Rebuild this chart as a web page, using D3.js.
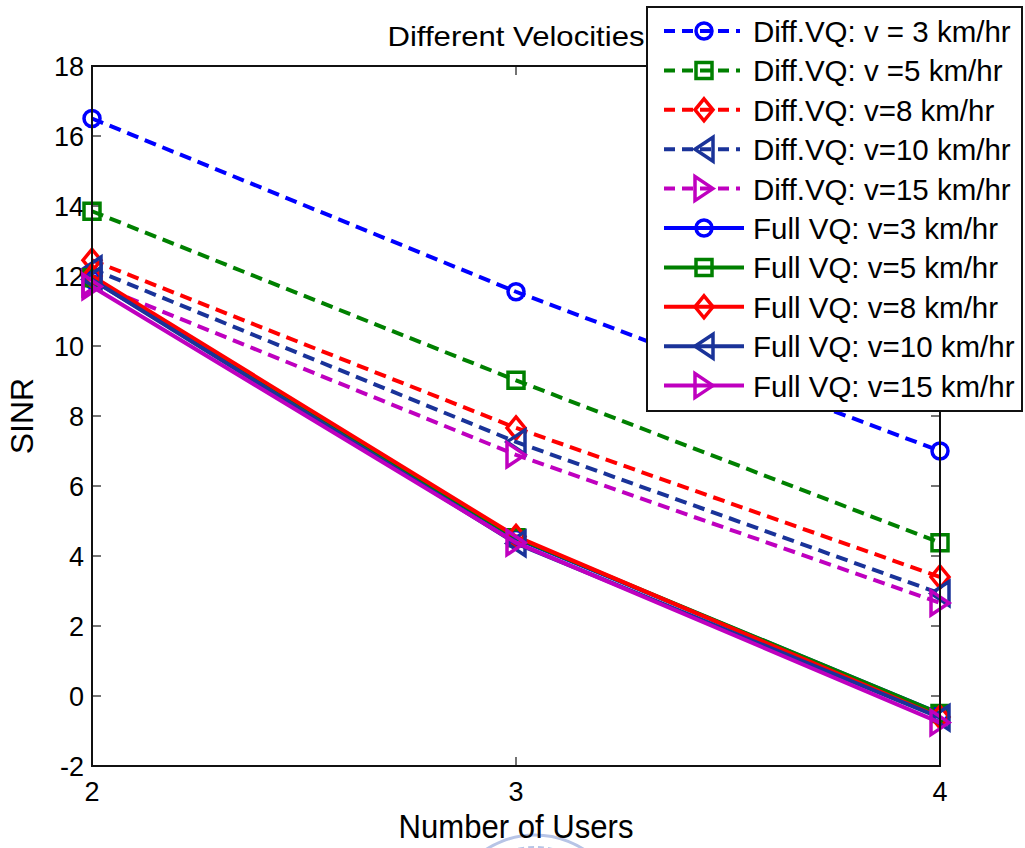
<!DOCTYPE html>
<html>
<head>
<meta charset="utf-8">
<script src="https://cdn.jsdelivr.net/npm/d3@7"></script>
<style>
  body { margin: 0; background: #fff; }
  text { font-family: "Liberation Sans", Arial, sans-serif; fill: #000; }
</style>
</head>
<body>
<div id="chart"></div>
<script>
// number of users on x
const users = [2, 3, 4];
const yTicks = [-2, 0, 2, 4, 6, 8, 10, 12, 14, 16, 18];

// SINR
const diff3 = [16.5, 11.55, 7.0];
const diff5 = [13.85, 9.02, 4.38];
const diff8 = [12.45, 7.66, 3.4];
const diff10 = [12.2, 7.26, 2.93];
const diff15 = [11.8, 6.89, 2.66];
const full3 = [11.9, 4.5, -0.5];
const full5 = [11.95, 4.52, -0.5];
const full8 = [12.0, 4.56, -0.6];
const full10 = [11.9, 4.36, -0.62];
const full15 = [11.7, 4.38, -0.76];

const series = [
  { label: "Diff.VQ: v = 3 km/hr", values: diff3, color: "#0000ff", marker: "circle", dashed: true },
  { label: "Diff.VQ: v =5 km/hr", values: diff5, color: "#008000", marker: "square", dashed: true },
  { label: "Diff.VQ: v=8 km/hr", values: diff8, color: "#ff0000", marker: "diamond", dashed: true },
  { label: "Diff.VQ: v=10 km/hr", values: diff10, color: "#1a3399", marker: "left", dashed: true },
  { label: "Diff.VQ: v=15 km/hr", values: diff15, color: "#bf00bf", marker: "right", dashed: true },
  { label: "Full VQ: v=3 km/hr", values: full3, color: "#0000ff", marker: "circle", dashed: false },
  { label: "Full VQ: v=5 km/hr", values: full5, color: "#008000", marker: "square", dashed: false },
  { label: "Full VQ: v=8 km/hr", values: full8, color: "#ff0000", marker: "diamond", dashed: false },
  { label: "Full VQ: v=10 km/hr", values: full10, color: "#1a3399", marker: "left", dashed: false },
  { label: "Full VQ: v=15 km/hr", values: full15, color: "#bf00bf", marker: "right", dashed: false },
];

const width = 1025, height = 848;
const plot = { left: 92, right: 940, top: 66, bottom: 766 };

const svg = d3.select("#chart").append("svg")
  .attr("width", width)
  .attr("height", height);

const x = d3.scaleLinear().domain([2, 4]).range([plot.left, plot.right]);
const y = d3.scaleLinear().domain([-2, 18]).range([plot.bottom, plot.top]);

function markerPath(type) {
  switch (type) {
    case "circle": return d3.arc()({ innerRadius: 0, outerRadius: 8, startAngle: 0, endAngle: 2 * Math.PI });
    case "square": return "M-8,-8H8V8H-8Z";
    case "diamond": return "M0,-11L9,0L0,11L-9,0Z";
    case "left": return "M-9,0L9,-12L9,12Z";
    case "right": return "M9,0L-9,-12L-9,12Z";
  }
}

// faint seal watermark peeking in at the bottom
const wm = svg.append("g").attr("fill", "none").attr("stroke", "#b7c4e6");
wm.append("circle").attr("cx", 535).attr("cy", 925).attr("r", 90).attr("stroke-width", 3);
wm.append("circle").attr("cx", 535).attr("cy", 925).attr("r", 78).attr("stroke-width", 2).attr("stroke-dasharray", "6,4");

// axes, ticks pointing in
const tickLen = 9;
const axisG = svg.append("g").attr("stroke", "#444").attr("stroke-width", 1.5);
yTicks.forEach(t => {
  axisG.append("line").attr("x1", plot.left).attr("x2", plot.left + tickLen).attr("y1", y(t)).attr("y2", y(t));
  axisG.append("line").attr("x1", plot.right).attr("x2", plot.right - tickLen).attr("y1", y(t)).attr("y2", y(t));
});
users.forEach(t => {
  axisG.append("line").attr("x1", x(t)).attr("x2", x(t)).attr("y1", plot.bottom).attr("y2", plot.bottom - tickLen);
  axisG.append("line").attr("x1", x(t)).attr("x2", x(t)).attr("y1", plot.top).attr("y2", plot.top + tickLen);
});

svg.selectAll(".ytick").data(yTicks).enter().append("text")
  .attr("x", plot.left - 8)
  .attr("y", d => y(d) + 10)
  .attr("text-anchor", "end")
  .style("font-size", "27px")
  .text(d => d);

svg.selectAll(".xtick").data(users).enter().append("text")
  .attr("x", d => x(d))
  .attr("y", plot.bottom + 35)
  .attr("text-anchor", "middle")
  .style("font-size", "27px")
  .text(d => d);

// series
const line = d3.line().x((d, i) => x(users[i])).y(d => y(d));
series.forEach(s => {
  const g = svg.append("g");
  g.append("path")
    .attr("d", line(s.values))
    .attr("fill", "none")
    .attr("stroke", s.color)
    .attr("stroke-width", 4)
    .attr("stroke-dasharray", s.dashed ? "12,7" : null);
  g.selectAll("path.m").data(s.values).enter().append("path")
    .attr("class", "m")
    .attr("d", markerPath(s.marker))
    .attr("transform", (d, i) => `translate(${x(users[i])},${y(d)})`)
    .attr("fill", "none")
    .attr("stroke", s.color)
    .attr("stroke-width", 3.5);
});

// frame
svg.append("rect")
  .attr("x", plot.left).attr("y", plot.top)
  .attr("width", plot.right - plot.left).attr("height", plot.bottom - plot.top)
  .attr("fill", "none").attr("stroke", "#111").attr("stroke-width", 2);

// title and labels
svg.append("text")
  .attr("x", (plot.left + plot.right) / 2).attr("y", 46)
  .attr("text-anchor", "middle")
  .attr("textLength", 257).attr("lengthAdjust", "spacingAndGlyphs")
  .style("font-size", "28px")
  .text("Different Velocities");

svg.append("text")
  .attr("x", (plot.left + plot.right) / 2).attr("y", 838)
  .attr("text-anchor", "middle")
  .attr("textLength", 235).attr("lengthAdjust", "spacingAndGlyphs")
  .style("font-size", "34px")
  .text("Number of Users");

svg.append("text")
  .attr("transform", `translate(33,${(plot.top + plot.bottom) / 2}) rotate(-90)`)
  .attr("text-anchor", "middle")
  .style("font-size", "32px")
  .text("SINR");

// legend
const lg = svg.append("g");
lg.append("rect")
  .attr("x", 647).attr("y", 7).attr("width", 375).attr("height", 404)
  .attr("fill", "#fff").attr("stroke", "#111").attr("stroke-width", 2);
series.forEach((s, i) => {
  const cy = 31 + i * 39.4;
  lg.append("line")
    .attr("x1", 664).attr("x2", s.dashed ? 740 : 744)
    .attr("y1", cy).attr("y2", cy)
    .attr("stroke", s.color).attr("stroke-width", 4)
    .attr("stroke-dasharray", s.dashed ? "11,7" : null);
  lg.append("path")
    .attr("d", markerPath(s.marker))
    .attr("transform", `translate(704,${cy})`)
    .attr("fill", "none").attr("stroke", s.color).attr("stroke-width", 3.5);
  lg.append("text")
    .attr("x", 753).attr("y", cy + 11)
    .style("font-size", "29.5px")
    .text(s.label);
});
</script>
</body>
</html>
